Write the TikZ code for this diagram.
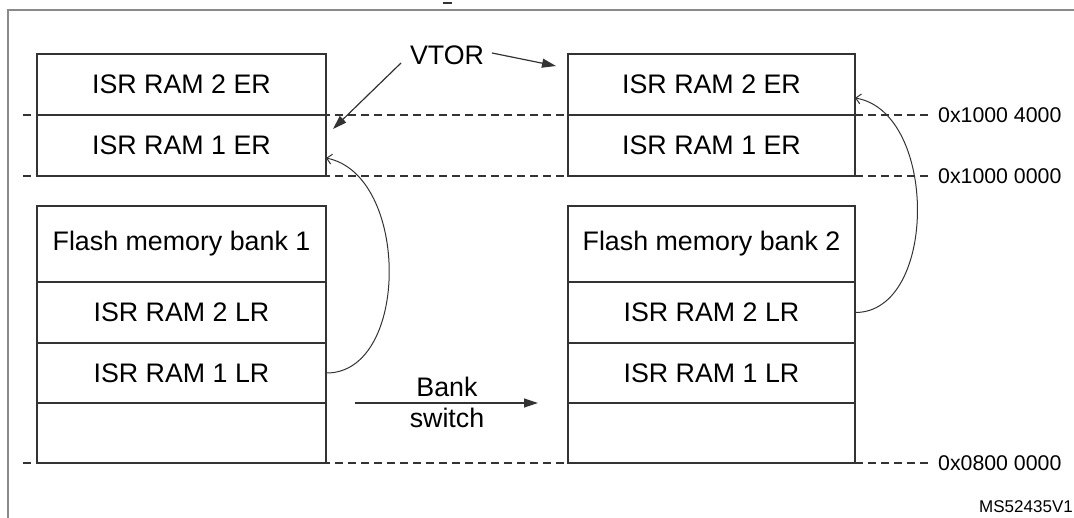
\documentclass[tikz,border=0pt]{standalone}
\usepackage{fontspec}
\setmainfont{Liberation Sans}
\usetikzlibrary{arrows.meta}
\definecolor{linec}{HTML}{333333}
\definecolor{framec}{HTML}{8A8A8A}
\begin{document}
\begin{tikzpicture}[x=1pt,y=-1pt,
  cell/.style={draw=linec, line width=1.2pt, minimum height=61pt, inner sep=0pt,
               font=\fontsize{26.8}{30}\selectfont, text=black},
  lcol/.style={cell, minimum width=289pt},
  rcol/.style={cell, minimum width=287pt},
  addr/.style={anchor=west, inner sep=0pt, font=\fontsize{21.3}{24}\selectfont, text=black},
  dashline/.style={draw=linec, line width=1.3pt, dash pattern=on 8pt off 5pt},
  vtarrow/.style={draw=linec, line width=1.2pt, -{Triangle[length=14pt,width=9pt]}},
  curvearrow/.style={draw=linec, line width=1pt, -{Straight Barb[length=5pt,width=10pt]}},
  frameline/.style={draw=framec, line width=2pt},
  lbl/.style={inner sep=0pt, font=\fontsize{26.8}{31}\selectfont, text=black, align=center}]
\useasboundingbox (0,0) rectangle (1074,518);

% outer frame
\draw[frameline] (8,518) -- (8,10) -- (1075,10);
\draw[line width=1.5pt, draw=linec] (443,3) -- (452,3);

% address labels
\node[addr] (a1) at (938,115) {0x1000 4000};
\node[addr] (a2) at (938,176) {0x1000 0000};
\node[addr] (a3) at (938,463) {0x0800 0000};
\coordinate (d1) at (23,115);
\coordinate (d2) at (23,176);
\coordinate (d3) at (23,463);
\draw[dashline, shorten >=8pt] (d1) -- (a1.west);
\draw[dashline, shorten >=8pt] (d2) -- (a2.west);
\draw[dashline, shorten >=8pt] (d3) -- (a3.west);

% left column
\node[lcol] (l2) at (181.5,84.5) {ISR RAM 2 ER};
\node[lcol] (l1) at (181.5,145.5) {ISR RAM 1 ER};
\node[lcol, minimum height=76pt] (lf) at (181.5,244) {Flash memory bank 1};
\node[lcol] (ll2) at (181.5,312.5) {ISR RAM 2 LR};
\node[lcol, minimum height=60pt] (ll1) at (181.5,373) {ISR RAM 1 LR};
\node[lcol, minimum height=60pt] (le) at (181.5,433) {};

% right column
\node[rcol] (r2) at (711.5,84.5) {ISR RAM 2 ER};
\node[rcol] (r1) at (711.5,145.5) {ISR RAM 1 ER};
\node[rcol, minimum height=76pt] (rf) at (711.5,244) {Flash memory bank 2};
\node[rcol] (rl2) at (711.5,312.5) {ISR RAM 2 LR};
\node[rcol, minimum height=60pt] (rl1) at (711.5,373) {ISR RAM 1 LR};
\node[rcol, minimum height=60pt] (re) at (711.5,433) {};

% VTOR
\node[lbl] (vtor) at (447,55) {VTOR};
\coordinate (vs1) at (401,63);
\coordinate (vt1) at (333,129);
\coordinate (vs2) at (492,53);
\coordinate (vt2) at (556,66);
\draw[vtarrow] (vs1) -- (vt1);
\draw[vtarrow] (vs2) -- (vt2);

% curved arrows
\coordinate (tip1) at (326,158);
\coordinate (tip2) at (855,98);
\draw[curvearrow] (ll1.east) .. controls (410,373) and (410,175) .. (tip1);
\draw[curvearrow] (rl2.east) .. controls (938,312) and (938,112) .. (tip2);

% bank switch
\node[lbl] (bs) at (447,402.5) {Bank\\switch};
\coordinate (bs1) at (355,403);
\coordinate (bs2) at (538,403);
\draw[vtarrow] (bs1) -- (bs2);

% figure id
\node[anchor=east, inner sep=0pt, font=\fontsize{17}{20}\selectfont, text=black] (msid) at (1073,507) {MS52435V1};
\end{tikzpicture}
\end{document}
